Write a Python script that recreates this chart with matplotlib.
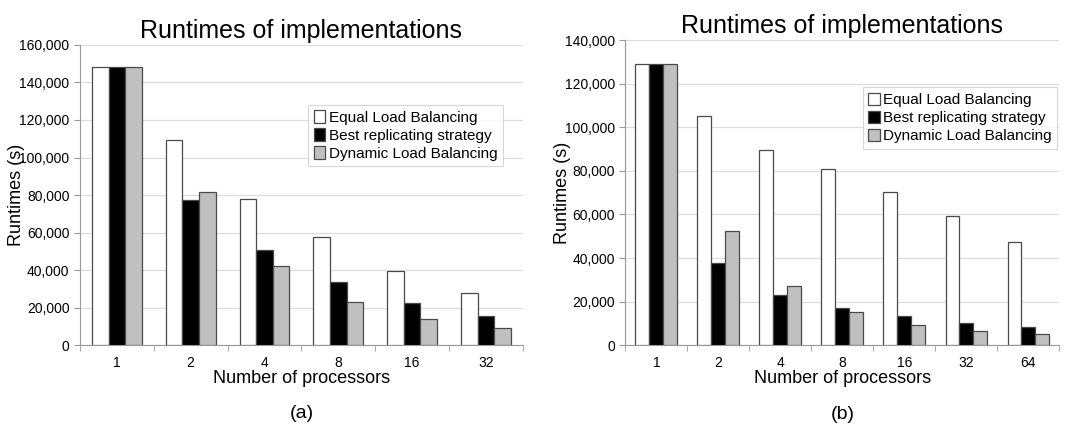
import numpy as np
import matplotlib.pyplot as plt
from matplotlib.ticker import FuncFormatter

plt.rcParams['font.family'] = ['Liberation Sans', 'DejaVu Sans']

# Данные
series = ['Equal Load Balancing', 'Best replicating strategy', 'Dynamic Load Balancing']
colors = ['white', 'black', '#c0c0c0']

procs_a = ['1', '2', '4', '8', '16', '32']
equal_a = [148000, 109600, 77900, 57600, 39700, 27700]
best_a = [148000, 77200, 50600, 33700, 22500, 15400]
dyn_a = [148000, 81600, 42200, 23100, 14000, 9200]

procs_b = ['1', '2', '4', '8', '16', '32', '64']
equal_b = [129000, 105300, 89400, 80700, 70100, 59100, 47200]
best_b = [129000, 37500, 23200, 17200, 13300, 10200, 8200]
dyn_b = [129000, 52400, 27300, 15100, 9400, 6700, 5200]

fig = plt.figure(figsize=(10.8, 4.32), dpi=100)
ax1 = fig.add_axes([0.074, 0.201, 0.41, 0.695])
ax2 = fig.add_axes([0.579, 0.201, 0.402, 0.706])


def draw(ax, procs, vals, ymax, letter, leg_anchor, ylab_x):
    n = len(procs)
    x = np.arange(n)
    w = 0.225
    for i, (v, c, s) in enumerate(zip(vals, colors, series)):
        ax.bar(x + (i - 1) * w, v, w, color=c, edgecolor='#4a4a4a', linewidth=0.9,
               label=s, zorder=3)
    ax.set_xlim(-0.5, n - 0.5)
    ax.set_ylim(0, ymax)
    ax.set_yticks(np.arange(0, ymax + 1, 20000))
    ax.yaxis.set_major_formatter(FuncFormatter(lambda v, p: '{:,.0f}'.format(v)))
    ax.set_xticks(x)
    ax.set_xticklabels(procs)
    ax.set_xticks(np.arange(n + 1) - 0.5, minor=True)
    ax.tick_params(axis='x', which='major', length=0, pad=8, labelsize=10)
    ax.tick_params(axis='x', which='minor', length=4, color='#999999')
    ax.tick_params(axis='y', length=4, color='#999999', labelsize=10)
    ax.grid(axis='y', color='#dddddd', linewidth=0.9, zorder=0)
    for s in ['top', 'right']:
        ax.spines[s].set_visible(False)
    for s in ['left', 'bottom']:
        ax.spines[s].set_color('#999999')
    ax.set_title('Runtimes of implementations', fontsize=18, pad=5)
    ax.set_xlabel('Number of processors', fontsize=13, labelpad=0)
    ax.set_ylabel('Runtimes (s)', fontsize=13)
    ax.yaxis.set_label_coords(ylab_x, 0.5)
    leg = ax.legend(loc='upper right', bbox_to_anchor=leg_anchor, fontsize=11,
                    frameon=True, fancybox=False, edgecolor='#cccccc',
                    handlelength=0.75, handleheight=0.9, handletextpad=0.25,
                    labelspacing=0.22, borderpad=0.35, borderaxespad=0)
    leg.get_frame().set_linewidth(0.8)
    ax.text(0.5, -0.2, letter, transform=ax.transAxes, ha='center', va='top', fontsize=14)


draw(ax1, procs_a, [equal_a, best_a, dyn_a], 160000, '(a)', (0.955, 0.8), -0.125)
draw(ax2, procs_b, [equal_b, best_b, dyn_b], 140000, '(b)', (0.995, 0.845), -0.125)

plt.savefig('out.png', dpi=100)
